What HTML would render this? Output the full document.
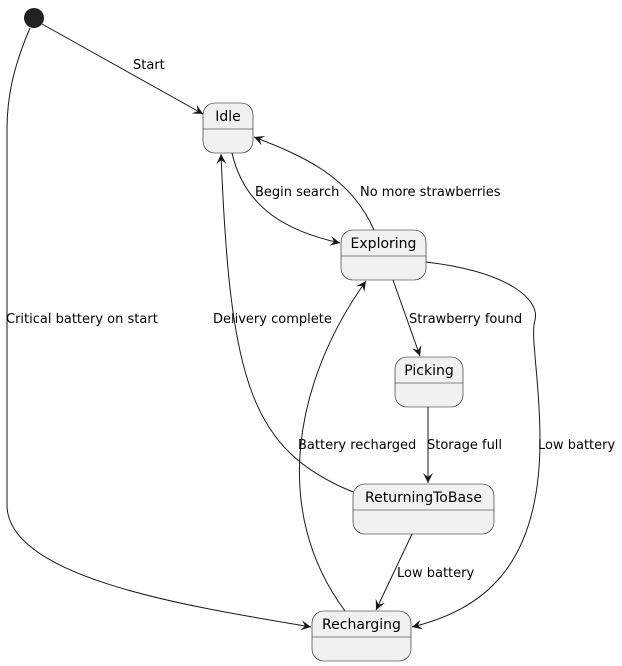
<!DOCTYPE html>
<html><head><style>body{margin:0;background:#fff}svg{display:block}</style></head><body>
<svg width="622" height="666" viewBox="0 0 622 666" xmlns="http://www.w3.org/2000/svg" font-family="DejaVu Sans, Liberation Sans, sans-serif" font-size="13">
<defs><marker id="a" markerWidth="12" markerHeight="10" refX="10" refY="5" orient="auto" markerUnits="userSpaceOnUse"><path d="M0,0 L10,5 L0,10 L4,5 Z" fill="#181818"/></marker></defs>
<g fill="none" stroke="#181818" stroke-width="1">
<path d="M42,24 L203,114" marker-end="url(#a)"/>
<path d="M30,28 C12,70 7,100 7,130 L7,505 C7,580 200,608 311,627" marker-end="url(#a)"/>
<path d="M232,153 C245,210 290,232 340,243" marker-end="url(#a)"/>
<path d="M374,230 C350,175 300,155 254,137" marker-end="url(#a)"/>
<path d="M393,280 L420,356" marker-end="url(#a)"/>
<path d="M426,262 C510,272 540,300 535,320 C530,335 540,380 540,440 C540,570 480,610 412,627" marker-end="url(#a)"/>
<path d="M428,407 L428,483" marker-end="url(#a)"/>
<path d="M412,534 L376,610" marker-end="url(#a)"/>
<path d="M353,492 C250,450 230,380 221,154" marker-end="url(#a)"/>
<path d="M345,611 C270,510 295,380 366,281" marker-end="url(#a)"/>
</g>
<circle cx="34" cy="18" r="10" fill="#222"/>
<g fill="#f1f1f1" stroke="#181818" stroke-width="0.6">
<rect x="203" y="103" width="50" height="50" rx="12"/><line x1="203" y1="129" x2="253" y2="129"/>
<rect x="341" y="230" width="85" height="50" rx="12"/><line x1="341" y1="256" x2="426" y2="256"/>
<rect x="395" y="357" width="68" height="50" rx="12"/><line x1="395" y1="383" x2="463" y2="383"/>
<rect x="353" y="484" width="141" height="50" rx="12"/><line x1="353" y1="510" x2="494" y2="510"/>
<rect x="312" y="611" width="99" height="50" rx="12"/><line x1="312" y1="637" x2="411" y2="637"/>
</g>
<g fill="#000" font-size="14" text-anchor="middle">
<text x="228" y="121">Idle</text>
<text x="383.5" y="248">Exploring</text>
<text x="429" y="375">Picking</text>
<text x="423.5" y="502">ReturningToBase</text>
<text x="361.5" y="629">Recharging</text>
</g>
<g fill="#000">
<text x="133" y="69">Start</text>
<text x="6" y="323">Critical battery on start</text>
<text x="255" y="196">Begin search</text>
<text x="360" y="196">No more strawberries</text>
<text x="409" y="323">Strawberry found</text>
<text x="213" y="323">Delivery complete</text>
<text x="298" y="449">Battery recharged</text>
<text x="427" y="449">Storage full</text>
<text x="538" y="449">Low battery</text>
<text x="397" y="577">Low battery</text>
</g>
</svg>
</body></html>
